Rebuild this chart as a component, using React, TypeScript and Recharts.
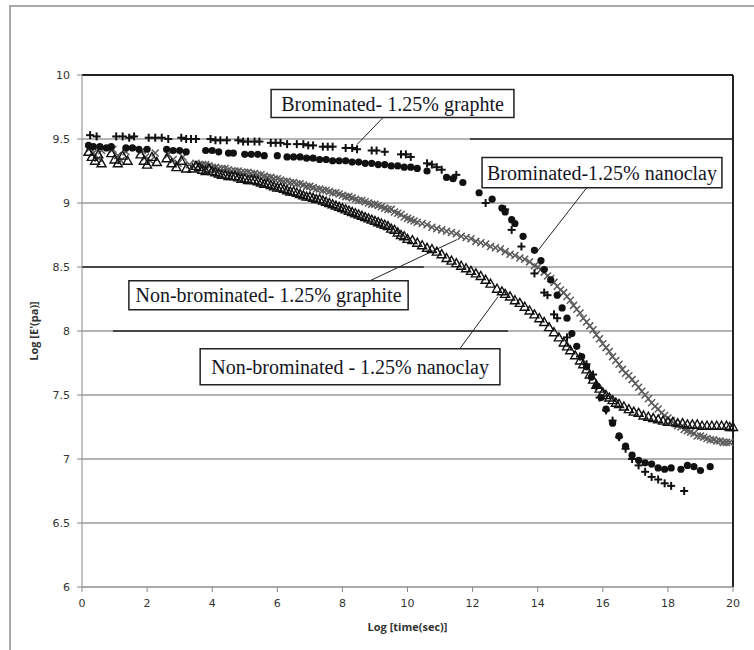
import React from 'react';
import { ScatterChart, Scatter, XAxis, YAxis, CartesianGrid, ReferenceLine, ReferenceArea } from 'recharts';

const xTicks = [0, 2, 4, 6, 8, 10, 12, 14, 16, 18, 20];
const yTicks = [6, 6.5, 7, 7.5, 8, 8.5, 9, 9.5, 10];

const xAxisTitle = 'Log [time(sec)]';
const yAxisTitle = "Log [E'(pa)]";

const labelBrGraphite = 'Brominated- 1.25% graphte';
const labelBrNanoclay = 'Brominated-1.25% nanoclay';
const labelNonBrGraphite = 'Non-brominated- 1.25% graphite';
const labelNonBrNanoclay = 'Non-brominated - 1.25% nanoclay';

// Brominated - 1.25% graphite  (+)
const brominatedGraphite: [number, number][] = [
  [0.25, 9.53], [0.45, 9.52], [1.05, 9.52], [1.25, 9.52], [1.45, 9.51], [1.6, 9.52], [2.05, 9.51], [2.25, 9.51],
  [2.45, 9.51], [2.65, 9.5], [3.05, 9.51], [3.2, 9.5], [3.35, 9.5], [3.5, 9.5], [3.95, 9.5], [4.1, 9.49],
  [4.25, 9.49], [4.45, 9.49], [4.8, 9.49], [4.95, 9.48], [5.1, 9.48], [5.3, 9.48], [5.45, 9.48], [5.8, 9.47],
  [5.95, 9.47], [6.1, 9.47], [6.3, 9.46], [6.6, 9.46], [6.8, 9.46], [6.95, 9.45], [7.1, 9.45], [7.4, 9.44],
  [7.55, 9.44], [7.7, 9.44], [8.1, 9.43], [8.3, 9.43], [8.45, 9.42], [8.9, 9.41], [9.05, 9.41], [9.3, 9.4],
  [9.8, 9.38], [9.95, 9.38], [10.1, 9.36], [10.6, 9.31], [10.75, 9.3], [10.9, 9.28], [11.05, 9.26], [11.5, 9.22],
  [12.4, 9.0], [13.0, 8.95], [13.2, 8.79], [13.5, 8.66], [13.9, 8.45], [14.2, 8.3], [14.3, 8.28], [14.5, 8.13],
  [14.6, 8.1], [14.9, 7.95], [15.3, 7.8], [15.5, 7.74], [15.7, 7.66], [15.9, 7.48], [16.1, 7.38], [16.3, 7.3],
  [16.5, 7.17], [16.7, 7.08], [16.9, 7.0], [17.1, 6.95], [17.3, 6.9], [17.5, 6.86], [17.7, 6.84], [17.9, 6.81],
  [18.1, 6.79], [18.5, 6.75],
];

// Brominated - 1.25% nanoclay  (filled circles)
const brominatedNanoclay: [number, number][] = [
  [0.2, 9.45], [0.35, 9.44], [0.55, 9.44], [0.75, 9.43], [0.9, 9.44], [1.35, 9.43], [1.55, 9.43], [1.75, 9.42],
  [2.0, 9.42], [2.6, 9.42], [2.8, 9.41], [3.0, 9.41], [3.2, 9.4], [3.8, 9.41], [4.0, 9.41], [4.2, 9.4],
  [4.5, 9.39], [4.65, 9.39], [5.0, 9.38], [5.2, 9.38], [5.4, 9.38], [5.6, 9.37], [6.0, 9.37], [6.3, 9.36],
  [6.5, 9.36], [6.7, 9.36], [6.9, 9.35], [7.1, 9.35], [7.3, 9.34], [7.5, 9.34], [7.7, 9.33], [7.9, 9.33],
  [8.1, 9.33], [8.3, 9.32], [8.5, 9.32], [8.7, 9.31], [8.9, 9.31], [9.1, 9.3], [9.3, 9.3], [9.5, 9.29],
  [9.7, 9.29], [9.9, 9.28], [10.1, 9.28], [10.3, 9.27], [10.6, 9.25], [11.2, 9.2], [11.4, 9.19], [11.7, 9.16],
  [12.2, 9.08], [12.6, 9.03], [12.9, 8.96], [13.0, 8.93], [13.2, 8.87], [13.3, 8.84], [13.55, 8.74], [13.9, 8.63],
  [14.1, 8.55], [14.2, 8.48], [14.4, 8.4], [14.6, 8.28], [14.75, 8.18], [14.9, 8.1], [15.05, 7.98], [15.2, 7.88],
  [15.35, 7.8], [15.5, 7.72], [15.65, 7.64], [15.8, 7.57], [15.95, 7.48], [16.1, 7.39], [16.3, 7.28], [16.5, 7.18],
  [16.7, 7.1], [16.9, 7.03], [17.1, 6.99], [17.3, 6.97], [17.5, 6.96], [17.7, 6.93], [17.9, 6.92], [18.1, 6.93],
  [18.4, 6.92], [18.6, 6.95], [18.8, 6.94], [19.0, 6.91], [19.3, 6.94],
];

// Non-brominated - 1.25% graphite  (grey crosses)
const nonBrominatedGraphite: [number, number][] = [
  [0.25, 9.43], [0.35, 9.39], [0.5, 9.35], [0.6, 9.41], [0.95, 9.42], [1.1, 9.37], [1.2, 9.33], [1.35, 9.4],
  [1.85, 9.41], [1.95, 9.36], [2.1, 9.33], [2.25, 9.39], [2.65, 9.38], [2.8, 9.34], [2.95, 9.31], [3.1, 9.36],
  [3.3, 9.3], [3.5, 9.31], [3.6, 9.3], [3.7, 9.3], [3.8, 9.3], [3.9, 9.29], [4.0, 9.28], [4.1, 9.28],
  [4.2, 9.27], [4.3, 9.27], [4.4, 9.27], [4.5, 9.26], [4.6, 9.25], [4.7, 9.25], [4.8, 9.25], [4.9, 9.24],
  [5.0, 9.24], [5.1, 9.24], [5.2, 9.23], [5.3, 9.23], [5.4, 9.22], [5.5, 9.22], [5.6, 9.21], [5.7, 9.2],
  [5.8, 9.2], [5.9, 9.19], [6.0, 9.19], [6.1, 9.18], [6.2, 9.17], [6.3, 9.17], [6.4, 9.16], [6.5, 9.16],
  [6.6, 9.15], [6.7, 9.15], [6.8, 9.14], [6.9, 9.13], [7.0, 9.13], [7.1, 9.12], [7.2, 9.11], [7.3, 9.11],
  [7.4, 9.1], [7.5, 9.1], [7.6, 9.09], [7.7, 9.08], [7.8, 9.08], [7.9, 9.07], [8.0, 9.06], [8.1, 9.05],
  [8.2, 9.05], [8.3, 9.04], [8.4, 9.03], [8.5, 9.02], [8.6, 9.02], [8.7, 9.01], [8.8, 9.0], [8.9, 8.99],
  [9.0, 8.99], [9.1, 8.98], [9.2, 8.97], [9.3, 8.96], [9.4, 8.95], [9.5, 8.95], [9.6, 8.93], [9.7, 8.92],
  [9.8, 8.91], [9.9, 8.89], [10.0, 8.88], [10.1, 8.87], [10.2, 8.86], [10.3, 8.85], [10.45, 8.84], [10.6, 8.83],
  [10.75, 8.81], [10.9, 8.8], [11.05, 8.79], [11.2, 8.78], [11.35, 8.77], [11.5, 8.76], [11.65, 8.74], [11.8, 8.73],
  [11.95, 8.72], [12.1, 8.7], [12.25, 8.69], [12.4, 8.68], [12.55, 8.66], [12.7, 8.65], [12.85, 8.64], [13.0, 8.62],
  [13.15, 8.6], [13.3, 8.59], [13.45, 8.57], [13.6, 8.56], [13.75, 8.54], [13.9, 8.51], [14.0, 8.5], [14.1, 8.48],
  [14.2, 8.46], [14.3, 8.43], [14.4, 8.41], [14.5, 8.38], [14.6, 8.35], [14.7, 8.32], [14.8, 8.3], [14.9, 8.27],
  [15.0, 8.24], [15.1, 8.2], [15.2, 8.17], [15.3, 8.14], [15.4, 8.1], [15.5, 8.07], [15.6, 8.04], [15.7, 8.01],
  [15.8, 7.97], [15.9, 7.94], [16.0, 7.9], [16.1, 7.87], [16.2, 7.84], [16.3, 7.8], [16.4, 7.77], [16.5, 7.74],
  [16.6, 7.7], [16.7, 7.67], [16.8, 7.65], [16.9, 7.62], [17.0, 7.59], [17.1, 7.56], [17.2, 7.53], [17.3, 7.5],
  [17.4, 7.47], [17.5, 7.44], [17.6, 7.41], [17.7, 7.39], [17.8, 7.36], [17.9, 7.34], [18.0, 7.32], [18.1, 7.3],
  [18.2, 7.28], [18.3, 7.26], [18.4, 7.25], [18.5, 7.23], [18.6, 7.22], [18.7, 7.21], [18.8, 7.2], [18.9, 7.18],
  [19.0, 7.18], [19.1, 7.17], [19.2, 7.16], [19.3, 7.15], [19.4, 7.15], [19.5, 7.14], [19.6, 7.14], [19.7, 7.13],
  [19.8, 7.13], [19.9, 7.13],
];

// Non-brominated - 1.25% nanoclay  (open triangles)
const nonBrominatedNanoclay: [number, number][] = [
  [0.2, 9.4], [0.3, 9.36], [0.4, 9.33], [0.5, 9.38], [0.6, 9.31], [0.9, 9.39], [1.0, 9.34], [1.1, 9.31],
  [1.25, 9.37], [1.4, 9.33], [1.8, 9.38], [1.9, 9.33], [2.0, 9.3], [2.15, 9.36], [2.3, 9.32], [2.6, 9.35],
  [2.75, 9.31], [2.9, 9.28], [3.05, 9.33], [3.2, 9.27], [3.4, 9.27], [3.5, 9.29], [3.6, 9.28], [3.7, 9.26],
  [3.8, 9.25], [3.9, 9.27], [4.0, 9.25], [4.1, 9.24], [4.2, 9.23], [4.3, 9.22], [4.4, 9.22], [4.5, 9.21],
  [4.6, 9.21], [4.7, 9.21], [4.8, 9.2], [4.9, 9.19], [5.0, 9.19], [5.1, 9.18], [5.2, 9.18], [5.3, 9.18],
  [5.4, 9.17], [5.5, 9.16], [5.6, 9.15], [5.7, 9.15], [5.8, 9.14], [5.9, 9.13], [6.0, 9.12], [6.1, 9.12],
  [6.2, 9.11], [6.3, 9.1], [6.4, 9.09], [6.5, 9.09], [6.6, 9.08], [6.7, 9.07], [6.8, 9.06], [6.9, 9.05],
  [7.0, 9.05], [7.1, 9.04], [7.2, 9.03], [7.3, 9.03], [7.4, 9.02], [7.5, 9.01], [7.6, 9.0], [7.7, 8.99],
  [7.8, 8.98], [7.9, 8.97], [8.0, 8.96], [8.1, 8.95], [8.2, 8.94], [8.3, 8.93], [8.4, 8.92], [8.5, 8.91],
  [8.6, 8.9], [8.7, 8.89], [8.8, 8.88], [8.9, 8.87], [9.0, 8.86], [9.1, 8.85], [9.2, 8.84], [9.3, 8.83],
  [9.4, 8.82], [9.5, 8.8], [9.6, 8.79], [9.7, 8.77], [9.8, 8.75], [9.9, 8.74], [10.0, 8.72], [10.15, 8.71],
  [10.3, 8.69], [10.45, 8.67], [10.6, 8.65], [10.75, 8.64], [10.9, 8.62], [11.05, 8.6], [11.2, 8.57], [11.35, 8.55],
  [11.5, 8.53], [11.65, 8.51], [11.8, 8.49], [11.95, 8.47], [12.1, 8.45], [12.25, 8.43], [12.4, 8.4], [12.55, 8.37],
  [12.75, 8.33], [12.9, 8.31], [13.0, 8.29], [13.15, 8.27], [13.3, 8.24], [13.45, 8.22], [13.6, 8.19], [13.75, 8.16],
  [13.9, 8.13], [14.05, 8.1], [14.2, 8.07], [14.35, 8.03], [14.5, 7.99], [14.65, 7.95], [14.8, 7.91], [14.9, 7.88],
  [15.0, 7.85], [15.15, 7.81], [15.3, 7.77], [15.4, 7.74], [15.5, 7.7], [15.6, 7.66], [15.7, 7.62], [15.8, 7.58],
  [15.9, 7.55], [16.0, 7.52], [16.1, 7.5], [16.2, 7.48], [16.3, 7.46], [16.4, 7.44], [16.5, 7.43], [16.65, 7.41],
  [16.8, 7.39], [16.95, 7.37], [17.1, 7.36], [17.25, 7.34], [17.4, 7.33], [17.55, 7.32], [17.7, 7.31], [17.85, 7.3],
  [18.0, 7.29], [18.15, 7.29], [18.3, 7.28], [18.45, 7.28], [18.6, 7.27], [18.75, 7.27], [18.9, 7.27], [19.05, 7.26],
  [19.2, 7.26], [19.35, 7.26], [19.5, 7.26], [19.65, 7.26], [19.8, 7.26], [19.9, 7.25], [20.0, 7.25],
];

const toPoints = (arr: [number, number][]) => arr.map(([x, y]) => ({ x, y }));

const PlusMarker = (p: any) => {
  const { cx, cy } = p;
  if (cx == null || cy == null) return null;
  return (
    <g>
      <line x1={cx - 4} y1={cy} x2={cx + 4} y2={cy} stroke="#111" strokeWidth={2} />
      <line x1={cx} y1={cy - 4} x2={cx} y2={cy + 4} stroke="#111" strokeWidth={2} />
    </g>
  );
};

const CircleMarker = (p: any) => {
  const { cx, cy } = p;
  if (cx == null || cy == null) return null;
  return <circle cx={cx} cy={cy} r={3.6} fill="#111" />;
};

const CrossMarker = (p: any) => {
  const { cx, cy } = p;
  if (cx == null || cy == null) return null;
  return (
    <g>
      <line x1={cx - 3.5} y1={cy - 3.5} x2={cx + 3.5} y2={cy + 3.5} stroke="#5a5a5a" strokeWidth={1.5} />
      <line x1={cx - 3.5} y1={cy + 3.5} x2={cx + 3.5} y2={cy - 3.5} stroke="#5a5a5a" strokeWidth={1.5} />
    </g>
  );
};

const TriangleMarker = (p: any) => {
  const { cx, cy } = p;
  if (cx == null || cy == null) return null;
  return (
    <polygon
      points={`${cx},${cy - 4.5} ${cx + 4.5},${cy + 3.5} ${cx - 4.5},${cy + 3.5}`}
      fill="none"
      stroke="#111"
      strokeWidth={1.4}
    />
  );
};

const boxLabel = (value: string) => ({
  value,
  position: 'center' as const,
  fill: '#15151f',
  fontSize: 20,
  fontFamily: '"Liberation Serif", "Times New Roman", serif',
});

const tickStyle = { fontSize: 11, fill: '#333', fontFamily: '"DejaVu Sans", Verdana, sans-serif' };

export default function App() {
  return (
    <div style={{ position: 'absolute', left: 0, top: 0, width: 754, height: 650, overflow: 'hidden', background: '#fff' }}>
      <div
        style={{
          position: 'absolute',
          left: 9,
          top: 5,
          width: 800,
          height: 700,
          border: '2px solid #a8a8a8',
        }}
      />
      <div style={{ position: 'absolute', left: 0, top: 0 }}>
        <ScatterChart width={754} height={650} margin={{ top: 75, right: 21, bottom: 33, left: 22 }}>
          <CartesianGrid vertical={false} stroke="#9a9a9a" strokeWidth={1} />
          <XAxis
            type="number"
            dataKey="x"
            domain={[0, 20]}
            ticks={xTicks}
            interval={0}
            height={30}
            tickSize={5}
            tickMargin={7}
            axisLine={{ stroke: '#888' }}
            tickLine={{ stroke: '#888' }}
            tick={tickStyle}
            label={{
              value: xAxisTitle,
              position: 'bottom',
              offset: 6,
              fontSize: 11,
              fontWeight: 700,
              fill: '#333',
              fontFamily: '"Open Sans", sans-serif',
            }}
          />
          <YAxis
            type="number"
            dataKey="y"
            domain={[6, 10]}
            ticks={yTicks}
            interval={0}
            width={60}
            tickSize={5}
            tickMargin={7}
            axisLine={{ stroke: '#888' }}
            tickLine={{ stroke: '#888' }}
            tick={tickStyle}
            tickFormatter={(v: number) => String(v)}
            label={{
              value: yAxisTitle,
              angle: -90,
              position: 'insideLeft',
              offset: 12,
              fontSize: 11,
              fontWeight: 700,
              fill: '#333',
              fontFamily: '"Open Sans", sans-serif',
              style: { textAnchor: 'middle' },
            }}
          />
          {yTicks.slice(1, -1).map((v) => (
            <ReferenceLine key={`g${v}`} y={v} stroke="#9a9a9a" strokeWidth={1} />
          ))}
          <ReferenceLine y={10} stroke="#222" strokeWidth={2} />
          <ReferenceLine x={20} stroke="#222" strokeWidth={2} />
          <ReferenceLine segment={[{ x: 11.92, y: 9.5 }, { x: 20, y: 9.5 }]} stroke="#222" strokeWidth={1.5} />
          <ReferenceLine segment={[{ x: 0, y: 8.5 }, { x: 10.5, y: 8.5 }]} stroke="#222" strokeWidth={1.5} />
          <ReferenceLine segment={[{ x: 0.95, y: 8 }, { x: 13.09, y: 8 }]} stroke="#222" strokeWidth={1.5} />

          <Scatter name={labelNonBrGraphite} data={toPoints(nonBrominatedGraphite)} shape={CrossMarker} isAnimationActive={false} />
          <Scatter name={labelNonBrNanoclay} data={toPoints(nonBrominatedNanoclay)} shape={TriangleMarker} isAnimationActive={false} />
          <Scatter name={labelBrGraphite} data={toPoints(brominatedGraphite)} shape={PlusMarker} isAnimationActive={false} />
          <Scatter name={labelBrNanoclay} data={toPoints(brominatedNanoclay)} shape={CircleMarker} isAnimationActive={false} />

          <ReferenceLine segment={[{ x: 9.25, y: 9.668 }, { x: 8.45, y: 9.457 }]} stroke="#222" strokeWidth={1} />
          <ReferenceLine segment={[{ x: 15.51, y: 9.12 }, { x: 13.98, y: 8.62 }]} stroke="#222" strokeWidth={1} />
          <ReferenceLine segment={[{ x: 8.85, y: 8.393 }, { x: 11.52, y: 8.714 }]} stroke="#222" strokeWidth={1} />
          <ReferenceLine segment={[{ x: 11.61, y: 7.862 }, { x: 12.78, y: 8.268 }]} stroke="#222" strokeWidth={1} />

          <ReferenceArea x1={5.81} x2={13.27} y1={9.668} y2={9.887} fill="#fff" fillOpacity={1} stroke="#222" strokeWidth={1.5} label={boxLabel(labelBrGraphite)} />
          <ReferenceArea x1={12.29} x2={19.66} y1={9.12} y2={9.355} fill="#fff" fillOpacity={1} stroke="#222" strokeWidth={1.5} label={boxLabel(labelBrNanoclay)} />
          <ReferenceArea x1={1.44} x2={10.02} y1={8.166} y2={8.393} fill="#fff" fillOpacity={1} stroke="#222" strokeWidth={1.5} label={boxLabel(labelNonBrGraphite)} />
          <ReferenceArea x1={3.63} x2={12.84} y1={7.58} y2={7.862} fill="#fff" fillOpacity={1} stroke="#222" strokeWidth={1.5} label={boxLabel(labelNonBrNanoclay)} />
        </ScatterChart>
      </div>
    </div>
  );
}
